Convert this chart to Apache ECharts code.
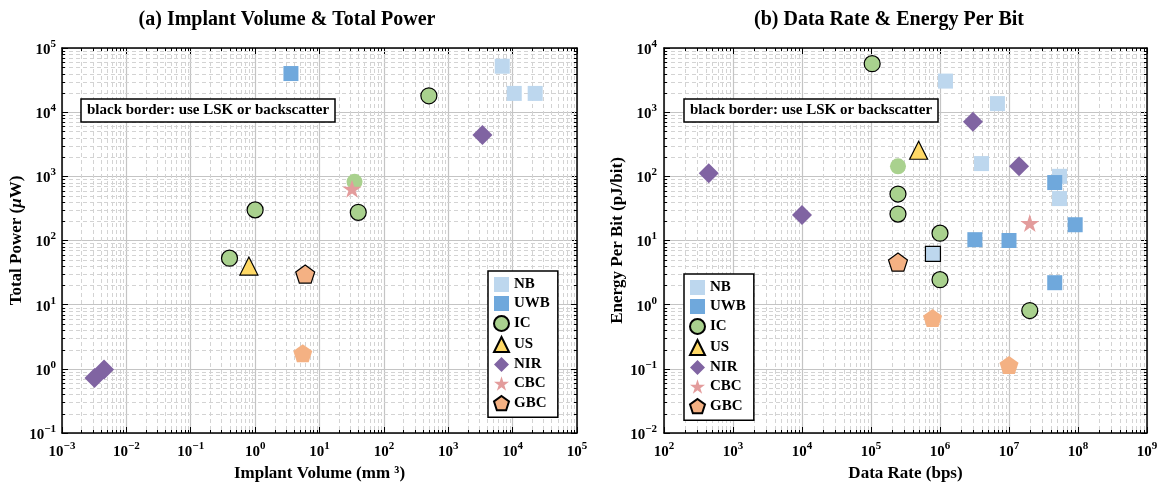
<!DOCTYPE html>
<html><head><meta charset="utf-8">
<script src="https://cdn.jsdelivr.net/npm/echarts@6/dist/echarts.min.js"></script>
<style>html,body{margin:0;padding:0;background:#fff}#c{width:1161px;height:484px}</style>
</head><body><div id="c"></div>
<script>
const FONT = '"Liberation Serif","Times New Roman",serif';

// Tick labels (powers of ten shown on each axis)
const volTickExps  = [-3, -2, -1, 0, 1, 2, 3, 4, 5];
const powTickExps  = [-1, 0, 1, 2, 3, 4, 5];
const rateTickExps = [2, 3, 4, 5, 6, 7, 8, 9];
const epbTickExps  = [-2, -1, 0, 1, 2, 3, 4];

const categories = ['NB', 'UWB', 'IC', 'US', 'NIR', 'CBC', 'GBC'];

// (a) Implant Volume (mm^3), Total Power (uW), black border (LSK/backscatter)
const aNB  = [[6900, 52000, 0], [10600, 19600, 0], [22400, 19600, 0]];
const aUWB = [[3.6, 40000, 0]];
const aIC  = [[500, 18000, 1], [35, 820, 0], [1.0, 300, 1], [40, 275, 1], [0.40, 53, 1]];
const aUS  = [[0.80, 40, 1]];
const aNIR = [[3400, 4400, 0], [0.0032, 0.72, 0], [0.0045, 0.98, 0]];
const aCBC = [[32, 640, 0]];
const aGBC = [[6.0, 30, 1], [5.5, 1.75, 0]];

// (b) Data Rate (bps), Energy Per Bit (pJ/bit), black border
const bNB  = [[1.2e6, 3050, 0], [6.8e6, 1360, 0], [4.0e6, 158, 0], [5.4e7, 100, 0], [5.4e7, 45, 0], [7.9e5, 6.2, 1]];
const bUWB = [[4.6e7, 80, 0], [9.1e7, 17.6, 0], [3.2e6, 10.3, 0], [1.0e7, 10, 0], [4.6e7, 2.2, 0]];
const bIC  = [[1.04e5, 5700, 1], [2.46e5, 143, 0], [2.46e5, 53, 1], [2.46e5, 25.8, 1], [1.0e6, 13, 1], [1.0e6, 2.45, 1], [2.0e7, 0.81, 1]];
const bUS  = [[4.9e5, 255, 1]];
const bNIR = [[3.0e6, 710, 0], [1.4e7, 143, 0], [445, 112, 0], [1e4, 25, 0]];
const bCBC = [[2.0e7, 18.7, 0]];
const bGBC = [[2.46e5, 4.6, 1], [7.8e5, 0.62, 0], [1e7, 0.115, 0]];

const PENTAGON = 'path://M50,0 L97.55,34.55 L79.39,90.45 L20.61,90.45 L2.45,34.55 Z';
const STAR = 'path://M50,0 L61.23,34.55 L97.55,34.55 L68.16,55.9 L79.39,90.45 L50,69.1 L20.61,90.45 L31.84,55.9 L2.45,34.55 L38.77,34.55 Z';

const styles = {
  NB:  {symbol: 'rect', size: 15, color: '#bdd7ee', border: false},
  UWB: {symbol: 'rect', size: 15, color: '#6fa8dc', border: false},
  IC:  {symbol: 'circle', size: 16, color: '#a9d18e', border: true},
  US:  {symbol: 'triangle', size: 18, color: '#ffd966', border: true},
  NIR: {symbol: 'diamond', size: 20, color: '#8064a2', border: false},
  CBC: {symbol: STAR, size: 19, color: '#e39c9c', border: false},
  GBC: {symbol: PENTAGON, size: 19, color: '#f4b183', border: true}
};

function expLabel(exps) {
  return function (v) {
    const e = Math.round(Math.log10(v));
    if (exps.indexOf(e) < 0) return '';
    return '{b|10}{s|' + (e < 0 ? '\u2212' + (-e) : String(e)) + '}';
  };
}
const labelRich = {
  b: {fontFamily: FONT, fontWeight: 'bold', fontSize: 15, color: '#000', lineHeight: 19, verticalAlign: 'bottom'},
  s: {fontFamily: FONT, fontWeight: 'bold', fontSize: 11, color: '#000', verticalAlign: 'top'}
};
const nameRich = {
  n: {fontFamily: FONT, fontWeight: 'bold', fontSize: 17, color: '#000', lineHeight: 22, verticalAlign: 'bottom'},
  i: {fontFamily: FONT, fontWeight: 'bold', fontStyle: 'italic', fontSize: 17, color: '#000', lineHeight: 22, verticalAlign: 'bottom'}
};

function mainAxis(min, max, exps, pos, gi, name, nameGap, margin) {
  return {
    type: 'log', logBase: 10, min: min, max: max, gridIndex: gi, position: pos,
    name: name, nameLocation: 'middle', nameGap: nameGap,
    nameTextStyle: {fontFamily: FONT, fontWeight: 'bold', fontSize: 17, color: '#000', rich: nameRich},
    axisLine: {show: true, lineStyle: {color: '#000', width: 1.5}},
    axisTick: {show: true, inside: true, length: 6, lineStyle: {color: '#000', width: 1}},
    axisLabel: {show: true, formatter: expLabel(exps), rich: labelRich, margin: margin},
    splitLine: {show: true, lineStyle: {color: '#c4c4c4', width: 1.2}},
    minorTick: {show: false}, minorSplitLine: {show: false}
  };
}
function sideAxis(min, max, pos, gi) {
  return {
    type: 'log', logBase: 10, min: min, max: max, gridIndex: gi, position: pos,
    axisLine: {show: true, lineStyle: {color: '#000', width: 1.5}},
    axisTick: {show: true, inside: true, length: 6, lineStyle: {color: '#000', width: 1}},
    axisLabel: {show: false}, splitLine: {show: false}
  };
}

function minorVals(lo, hi) {
  const out = [];
  for (let k = lo; k < hi; k++) for (let m = 2; m <= 9; m++) out.push(m * Math.pow(10, k));
  return out;
}

function minorSeries(xi, yi, vals, dir, ref) {
  return {
    type: 'custom', xAxisIndex: xi, yAxisIndex: yi, silent: true, z: 1,
    data: vals.map(v => dir === 'x' ? [v, ref] : [ref, v]),
    renderItem: function (params, api) {
      const cs = params.coordSys;
      const p = api.coord([api.value(0), api.value(1)]);
      const dash = {stroke: '#d3d3d3', lineWidth: 1, lineDash: [4, 3]};
      const tk = {stroke: '#000', lineWidth: 1};
      if (dir === 'x') {
        const x = Math.round(p[0]) + 0.5;
        return {type: 'group', children: [
          {type: 'line', shape: {x1: x, y1: cs.y, x2: x, y2: cs.y + cs.height}, style: dash},
          {type: 'line', shape: {x1: x, y1: cs.y + cs.height, x2: x, y2: cs.y + cs.height - 3}, style: tk},
          {type: 'line', shape: {x1: x, y1: cs.y, x2: x, y2: cs.y + 3}, style: tk}
        ]};
      } else {
        const y = Math.round(p[1]) + 0.5;
        return {type: 'group', children: [
          {type: 'line', shape: {x1: cs.x, y1: y, x2: cs.x + cs.width, y2: y}, style: dash},
          {type: 'line', shape: {x1: cs.x, y1: y, x2: cs.x + 3, y2: y}, style: tk},
          {type: 'line', shape: {x1: cs.x + cs.width, y1: y, x2: cs.x + cs.width - 3, y2: y}, style: tk}
        ]};
      }
    }
  };
}

function scat(name, data, xi, yi) {
  const st = styles[name];
  return {
    type: 'scatter', name: name, xAxisIndex: xi, yAxisIndex: yi,
    symbol: st.symbol, symbolSize: st.size, symbolKeepAspect: true, z: 5,
    itemStyle: {color: st.color, opacity: 1, borderColor: '#000', borderWidth: st.border ? 1.2 : 0},
    emphasis: {disabled: true},
    data: data.map(d => ({value: [d[0], d[1]], itemStyle: {borderColor: '#000', borderWidth: d[2] ? 1.2 : 0}}))
  };
}

const legendBase = {
  data: categories, orient: 'vertical', selectedMode: false,
  padding: [6, 8, 6, 5], itemGap: 4, itemWidth: 15, itemHeight: 15,
  borderColor: '#000', borderWidth: 1.5, backgroundColor: '#fff',
  textStyle: {fontFamily: FONT, fontWeight: 'bold', fontSize: 15, color: '#000'}
};
const boxTitle = {
  text: 'black border: use LSK or backscatter',
  borderColor: '#000', borderWidth: 1.5, backgroundColor: '#fff', padding: [4, 6, 4, 6],
  textStyle: {fontFamily: FONT, fontWeight: 'bold', fontSize: 15, color: '#000'}
};
const titleStyle = {fontFamily: FONT, fontWeight: 'bold', fontSize: 20, color: '#000'};

const series = [];
[['NB', aNB], ['UWB', aUWB], ['IC', aIC], ['US', aUS], ['NIR', aNIR], ['CBC', aCBC], ['GBC', aGBC]]
  .forEach(p => series.push(scat(p[0], p[1], 0, 0)));
[['NB', bNB], ['UWB', bUWB], ['IC', bIC], ['US', bUS], ['NIR', bNIR], ['CBC', bCBC], ['GBC', bGBC]]
  .forEach(p => series.push(scat(p[0], p[1], 2, 2)));
series.push(minorSeries(0, 0, minorVals(-3, 5), 'x', 1));
series.push(minorSeries(0, 0, minorVals(-1, 5), 'y', 1));
series.push(minorSeries(2, 2, minorVals(2, 9), 'x', 1));
series.push(minorSeries(2, 2, minorVals(-2, 4), 'y', 1000));

const option = {
  animation: false,
  backgroundColor: '#fff',
  title: [
    {text: '(a) Implant Volume & Total Power', left: 282, top: 5, textAlign: 'center', textStyle: titleStyle},
    {text: '(b) Data Rate & Energy Per Bit', left: 884, top: 5, textAlign: 'center', textStyle: titleStyle},
    Object.assign({left: 81, top: 99}, boxTitle),
    Object.assign({left: 684, top: 99}, boxTitle)
  ],
  legend: [
    Object.assign({left: 488, top: 271}, legendBase),
    Object.assign({left: 684, top: 274}, legendBase)
  ],
  grid: [
    {left: 62, top: 48, width: 515, height: 385, containLabel: false, outerBoundsMode: 'none'},
    {left: 664, top: 48, width: 483, height: 385, containLabel: false, outerBoundsMode: 'none'}
  ],
  xAxis: [
    mainAxis(1e-3, 1e5, volTickExps, 'bottom', 0, '{n|Implant Volume (mm \u00b3)}', 25, 8),
    sideAxis(1e-3, 1e5, 'top', 0),
    mainAxis(1e2, 1e9, rateTickExps, 'bottom', 1, '{n|Data Rate (bps)}', 25, 8),
    sideAxis(1e2, 1e9, 'top', 1)
  ],
  yAxis: [
    mainAxis(1e-1, 1e5, powTickExps, 'left', 0, '{n|Total Power (}{i|\u03bc}{n|W)}', 33, 6),
    sideAxis(1e-1, 1e5, 'right', 0),
    mainAxis(1e-2, 1e4, epbTickExps, 'left', 1, '{n|Energy Per Bit (pJ/bit)}', 30, 7),
    sideAxis(1e-2, 1e4, 'right', 1)
  ],
  series: series
};

const chart = echarts.init(document.getElementById('c'), null, {renderer: 'canvas'});
chart.setOption(option);
</script>
</body></html>
